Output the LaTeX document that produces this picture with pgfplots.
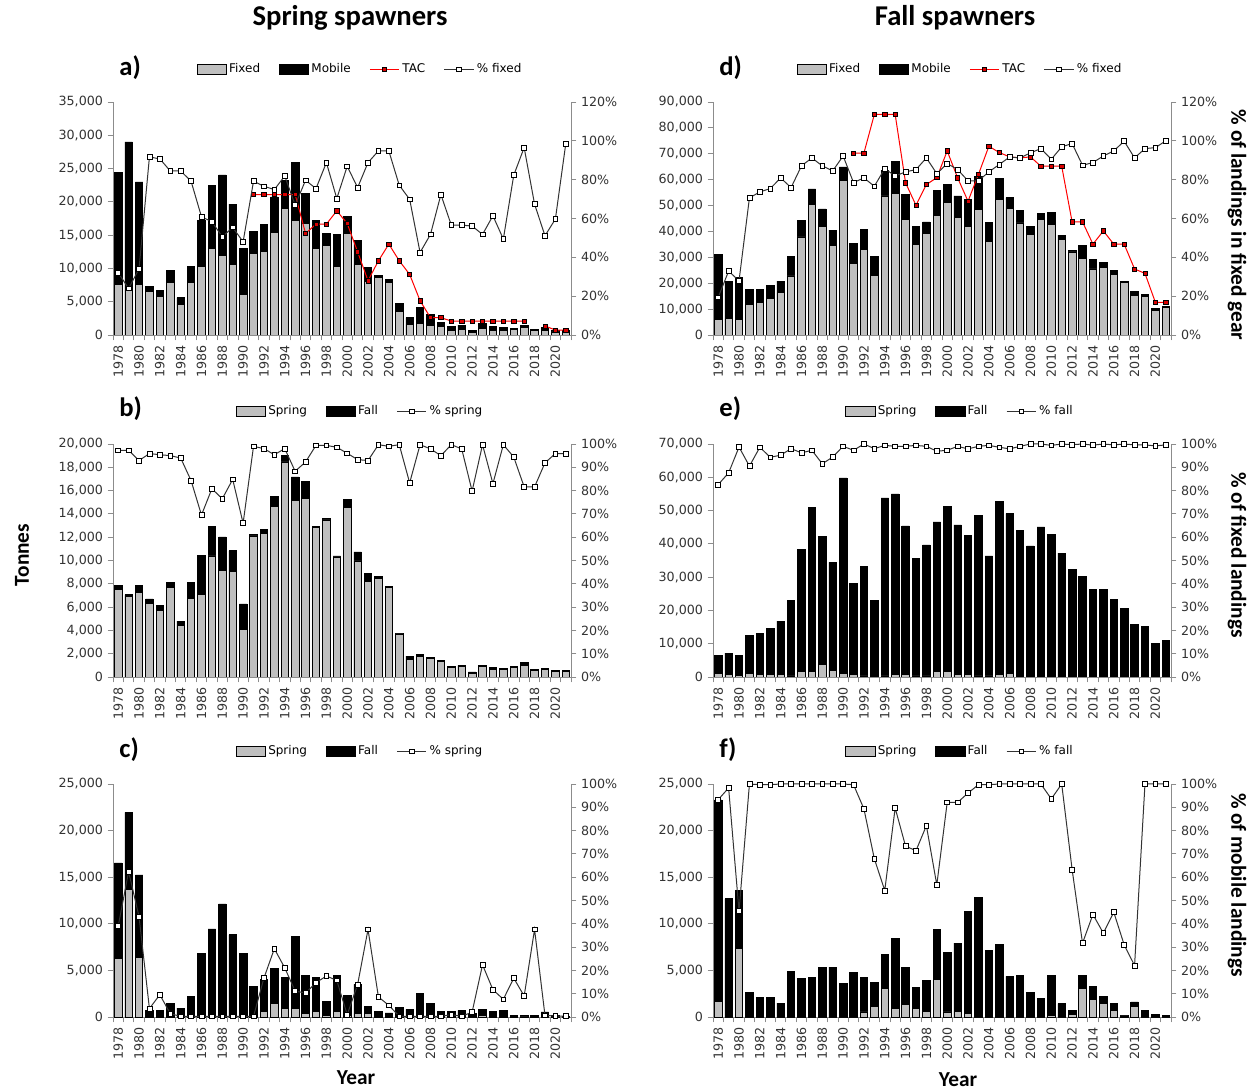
\documentclass[border=0pt]{standalone}
\usepackage{fontspec}
\setmainfont{DejaVu Sans}
\newfontfamily\calibri{Carlito}
\usepackage{pgfplots}
\usepackage{pgfplotstable}
\pgfplotsset{compat=1.18}

\newcommand\tickfont{\fontsize{9.5}{11}\selectfont}
\newcommand\legfont{\fontsize{9}{10}\selectfont}

% spring spawners: total landings (tot), fixed gear (part), TAC, % fixed
\pgfplotstableread{
year tot part tac pct
1978 24400 7650 nan 32
1979 29000 6750 nan 24
1980 23000 7650 nan 34
1981 7250 6500 nan 91.7
1982 6650 5850 nan 90.7
1983 9650 7900 nan 84.5
1984 5600 4600 nan 84.5
1985 10250 7900 nan 79.2
1986 17150 10250 nan 60.9
1987 22500 13000 nan 58.3
1988 24050 11900 nan 50.6
1989 19650 10650 nan 55.4
1990 13050 6150 nan 48
1991 15550 12250 21100 79.2
1992 16600 12600 21100 76.6
1993 20750 15400 21100 74.9
1994 23250 19000 21100 81.9
1995 25900 17250 21100 66.9
1996 21250 16750 15250 79.7
1997 17150 13000 16650 75.4
1998 15250 13500 16650 88.8
1999 15050 10350 18650 70.3
2000 17750 15250 16750 86.9
2001 14150 10650 12500 75.9
2002 10100 8000 8150 88.8
2003 9000 8650 11150 94.8
2004 8350 7900 13650 94.8
2005 4750 3500 11150 77.1
2006 2600 1600 9100 69.9
2007 4200 1750 5150 42.5
2008 3150 1450 2600 51.8
2009 1900 1250 2600 72.3
2010 1350 750 2100 56.6
2011 1500 900 2100 56.6
2012 650 400 2100 56.1
2013 1750 950 2100 51.8
2014 1350 750 2100 61.4
2015 1200 650 2100 49.4
2016 1000 900 2100 82.3
2017 1400 1100 2100 96.5
2018 850 700 nan 67.4
2019 1150 650 1350 51.1
2020 650 450 750 59.7
2021 650 500 750 98.6
}\tabA

% fall spawners: total, fixed, TAC, % fixed
\pgfplotstableread{
year tot part tac pct
1978 31200 6000 nan 19.4
1979 20800 6400 nan 32.9
1980 22100 6000 nan 27.9
1981 17600 11800 nan 70.6
1982 17600 12700 nan 73.7
1983 19000 14000 nan 75.4
1984 20800 16500 nan 80.9
1985 30500 22800 nan 75.9
1986 44100 37900 nan 87.1
1987 56400 50500 nan 91.2
1988 48700 42000 nan 87.1
1989 40500 34500 nan 84.5
1990 64900 59800 nan 92.2
1991 35400 27800 70300 78.5
1992 40900 33000 70300 80.9
1993 30500 22900 85200 76.6
1994 63600 53700 85200 85.7
1995 67200 54600 85200 81.9
1996 54300 44700 58800 84.0
1997 41800 35100 50100 85.2
1998 43700 39200 58100 91.2
1999 55900 46300 60800 83.1
2000 58200 51200 71100 88.3
2001 53700 45300 60700 85.2
2002 52300 42000 51700 79.4
2003 61300 48500 62000 79.4
2004 43500 36000 72900 84.0
2005 60400 52500 70500 87.8
2006 53100 48900 68800 91.7
2007 48200 43300 68400 91.2
2008 41800 38800 68800 93.8
2009 46900 44700 65200 96.0
2010 47200 42800 65200 90.5
2011 38600 37000 65200 96.9
2012 32800 32100 43700 98.6
2013 34500 29600 43700 87.4
2014 29300 25500 35100 88.8
2015 28000 26000 40200 92.2
2016 24800 23400 35100 94.8
2017 20800 20300 35100 99.8
2018 16700 15200 25500 91.2
2019 15800 14800 23800 96.0
2020 10300 9600 12600 96.5
2021 11200 10700 12600 100
}\tabD

% spring spawners, fixed gear: total, spring part, % spring
\pgfplotstableread{
year tot part pct
1978 7830 7550 97.3
1979 7070 6920 97.3
1980 7830 7260 92.9
1981 6700 6350 95.9
1982 6130 5700 95.4
1983 8120 7690 95.0
1984 4790 4420 94.0
1985 8120 6750 84.3
1986 10460 7120 69.5
1987 12960 10400 80.8
1988 12020 9170 76.5
1989 10830 9060 84.8
1990 6270 4070 66.0
1991 12220 12110 99.0
1992 12680 12310 98.0
1993 15470 14670 95.4
1994 19030 18460 98.0
1995 17180 15160 88.3
1996 16810 15330 92.3
1997 12960 12820 99.4
1998 13590 13480 99.4
1999 10400 10310 98.6
2000 15270 14530 96.0
2001 10740 9970 93.3
2002 8920 8180 92.9
2003 8630 8490 99.7
2004 7780 7690 99.0
2005 3760 3700 99.7
2006 1790 1480 83.3
2007 1910 1790 99.7
2008 1710 1620 97.9
2009 1420 1340 95.0
2010 940 850 99.7
2011 1000 910 97.9
2012 430 280 79.8
2013 1000 940 99.7
2014 800 660 83.0
2015 710 660 99.7
2016 940 850 94.4
2017 1230 1000 81.6
2018 660 570 81.6
2019 710 630 91.9
2020 540 480 95.9
2021 540 480 95.9
}\tabB

% fall spawners, fixed gear: total, spring part, % fall
\pgfplotstableread{
year tot part pct
1978 6480 1200 82.6
1979 7180 800 87.6
1980 6480 400 98.7
1981 12460 1200 90.5
1982 13160 700 98.6
1983 14660 800 94.3
1984 16750 800 95.2
1985 23130 300 98.0
1986 38400 1800 96.2
1987 51050 1800 97.3
1988 42200 3800 91.5
1989 34400 2000 94.4
1990 59800 1000 99.0
1991 28100 800 97.3
1992 33100 300 100
1993 23100 200 98.0
1994 53800 300 99.4
1995 55000 800 99.0
1996 45400 700 99.0
1997 35600 300 99.4
1998 39700 300 99.0
1999 46600 1700 96.9
2000 51300 1700 97.3
2001 45700 700 99.0
2002 42600 700 97.9
2003 48600 300 99.0
2004 36400 300 99.4
2005 52800 700 98.6
2006 49100 1200 97.9
2007 44100 200 99.0
2008 39400 200 100
2009 45100 200 100
2010 42900 200 99.4
2011 37200 200 100
2012 32200 200 99.7
2013 30200 200 100
2014 26200 200 99.5
2015 26200 200 100
2016 23400 200 99.6
2017 20600 200 100
2018 15700 200 99.6
2019 15300 200 99.6
2020 10000 200 99.2
2021 11000 200 99.6
}\tabE

% spring spawners, mobile gear: total, spring part, % spring
\pgfplotstableread{
year tot part pct
1978 16540 6320 39
1979 21960 13680 62.4
1980 15250 6430 43.1
1981 710 30 3.6
1982 710 70 9.6
1983 1430 20 1.4
1984 960 0 0.3
1985 2210 0 0.3
1986 6790 0 0.3
1987 9460 0 0.3
1988 12140 0 0.3
1989 8820 0 0.3
1990 6790 0 0.3
1991 3320 0 0.3
1992 4000 610 16.7
1993 5250 1500 29.3
1994 4210 890 21.1
1995 8680 890 11.1
1996 4460 360 10.3
1997 4210 610 14.7
1998 1710 180 17.6
1999 4460 610 15.7
2000 2320 180 1.0
2001 3500 360 13.9
2002 1180 360 37.6
2003 610 50 8.6
2004 430 20 5.0
2005 1070 0 0.3
2006 820 0 0.3
2007 2500 0 0.3
2008 1430 0 0.3
2009 610 0 0.3
2010 610 0 1.0
2011 710 0 0.3
2012 360 0 2.1
2013 820 180 22.4
2014 610 70 11.7
2015 710 50 7.6
2016 140 20 16.7
2017 140 10 9.0
2018 140 50 37.6
2019 540 0 0.7
2020 140 0 0.4
2021 100 0 0.4
}\tabC

% fall spawners, mobile gear: total, spring part, % fall
\pgfplotstableread{
year tot part pct
1978 23300 1680 93.3
1979 12680 0 98.3
1980 13570 7320 45.4
1981 2610 0 100
1982 2070 0 99.7
1983 2070 0 99.7
1984 1500 0 100
1985 4890 0 100
1986 4110 0 100
1987 4210 0 100
1988 5360 0 100
1989 5360 0 100
1990 3640 0 100
1991 4750 0 99.7
1992 4210 540 89.3
1993 3750 1140 67.9
1994 6680 3040 54.3
1995 8460 890 89.7
1996 5360 1360 73.3
1997 3140 890 71.4
1998 3930 640 82.1
1999 9390 4000 56.7
2000 6890 540 92.1
2001 7930 640 92.1
2002 11360 360 96.1
2003 12860 0 99.7
2004 7140 0 99.7
2005 7790 0 100
2006 4360 0 100
2007 4460 0 100
2008 2680 0 100
2009 1960 0 100
2010 4460 180 93.6
2011 1430 0 100
2012 710 250 63.3
2013 4460 3040 31.7
2014 3320 1890 44.0
2015 2210 1430 36.0
2016 1430 710 45.0
2017 180 120 31.0
2018 1610 1180 22.1
2019 710 0 100
2020 290 0 100
2021 180 0 100
}\tabF

\pgfplotsset{
  base/.style={
    scale only axis, width=343.5pt, height=174.75pt, anchor=south west,
    xmin=1977.5, xmax=2021.5, ymin=0,
    axis line style={draw=black!45, line width=0.6pt},
    tick style={draw=black!45, line width=0.6pt},
    tick align=outside, major tick length=4pt, minor tick length=4pt,
    ticklabel style={font=\tickfont, text=black!80},
    /pgf/number format/assume math mode=true,
    scaled y ticks=false,
    legend style={draw=none, fill=none, font=\legfont, legend columns=-1,
      at={(0.54,1.14)}, anchor=center,
      /tikz/every even column/.append style={column sep=12pt}},
  },
  leftax/.style={base, ybar, bar width=0.72,
    axis x line*=bottom, axis y line*=left,
    xtick={1978,1980,...,2020}, minor xtick={1977.5,1978.5,...,2021.5},
    every major x tick/.append style={draw=none},
    xticklabel style={rotate=90, anchor=east, /pgf/number format/1000 sep={}},
    yticklabel style={/pgf/number format/fixed},
  },
  rightax/.style={base, axis y line*=right, axis x line=none, xtick=\empty, clip=false,
    yticklabel={\pgfmathprintnumber{\tick}\%}},
  barleg/.style={legend image code/.code={\draw[##1] (0pt,-3.5pt) rectangle (22pt,3.5pt);}},
  lineleg/.style={legend image code/.code={\draw[mark repeat=2,mark phase=2,##1] plot coordinates {(0pt,0pt) (11pt,0pt) (22pt,0pt)};}},
  blackbar/.style={fill=black, draw=black, line width=0.5pt, bar shift=0pt, forget plot},
  graybar/.style={fill=black!25, draw=black, line width=0.5pt, bar shift=0pt, forget plot},
  pctline/.style={sharp plot, black!80, line width=0.75pt, mark=square*, mark size=1.8pt,
    mark options={fill=white, draw=black, solid, line width=0.5pt}},
  tacline/.style={sharp plot, red, line width=0.75pt, mark=square*, mark size=1.6pt,
    mark options={fill=red!85!black, draw=black, line width=0.5pt}, unbounded coords=jump},
}

\begin{document}
\begin{tikzpicture}
\useasboundingbox (0,0) rectangle (940.5pt,817.5pt);

% ---- a) ----
\begin{axis}[leftax, at={(84.75pt,566.25pt)}, ymax=35000, ytick={0,5000,...,35000}]
\addlegendimage{barleg, fill=black!25, draw=black}\addlegendentry{Fixed}
\addlegendimage{barleg, fill=black, draw=black}\addlegendentry{Mobile}
\addlegendimage{lineleg, tacline}\addlegendentry{TAC}
\addlegendimage{lineleg, pctline}\addlegendentry{\% fixed}
\addplot[blackbar] table[x=year, y=tot] {\tabA};
\addplot[graybar] table[x=year, y=part] {\tabA};
\addplot[tacline, forget plot] table[x=year, y=tac] {\tabA};
\end{axis}
\begin{axis}[rightax, at={(84.75pt,566.25pt)}, ymax=120, ytick={0,20,...,120}]
\addplot[pctline] table[x=year, y=pct] {\tabA};
\end{axis}

% ---- d) ----
\begin{axis}[leftax, at={(534.75pt,566.25pt)}, ymax=90000, ytick={0,10000,...,90000}]
\addlegendimage{barleg, fill=black!25, draw=black}\addlegendentry{Fixed}
\addlegendimage{barleg, fill=black, draw=black}\addlegendentry{Mobile}
\addlegendimage{lineleg, tacline}\addlegendentry{TAC}
\addlegendimage{lineleg, pctline}\addlegendentry{\% fixed}
\addplot[blackbar] table[x=year, y=tot] {\tabD};
\addplot[graybar] table[x=year, y=part] {\tabD};
\addplot[tacline, forget plot] table[x=year, y=tac] {\tabD};
\end{axis}
\begin{axis}[rightax, at={(534.75pt,566.25pt)}, ymax=120, ytick={0,20,...,120}]
\addplot[pctline] table[x=year, y=pct] {\tabD};
\end{axis}

% ---- b) ----
\begin{axis}[leftax, at={(84.75pt,309.75pt)}, ymax=20000, ytick={0,2000,...,20000}]
\addlegendimage{barleg, fill=black!25, draw=black}\addlegendentry{Spring}
\addlegendimage{barleg, fill=black, draw=black}\addlegendentry{Fall}
\addlegendimage{lineleg, pctline}\addlegendentry{\% spring}
\addplot[blackbar] table[x=year, y=tot] {\tabB};
\addplot[graybar] table[x=year, y=part] {\tabB};
\end{axis}
\begin{axis}[rightax, at={(84.75pt,309.75pt)}, ymax=100, ytick={0,10,...,100}]
\addplot[pctline] table[x=year, y=pct] {\tabB};
\end{axis}

% ---- e) ----
\begin{axis}[leftax, at={(534.75pt,309.75pt)}, ymax=70000, ytick={0,10000,...,70000}]
\addlegendimage{barleg, fill=black!25, draw=black}\addlegendentry{Spring}
\addlegendimage{barleg, fill=black, draw=black}\addlegendentry{Fall}
\addlegendimage{lineleg, pctline}\addlegendentry{\% fall}
\addplot[blackbar] table[x=year, y=tot] {\tabE};
\addplot[graybar] table[x=year, y=part] {\tabE};
\end{axis}
\begin{axis}[rightax, at={(534.75pt,309.75pt)}, ymax=100, ytick={0,10,...,100}]
\addplot[pctline] table[x=year, y=pct] {\tabE};
\end{axis}

% ---- c) ----
\begin{axis}[leftax, at={(84.75pt,54.75pt)}, ymax=25000, ytick={0,5000,...,25000}]
\addlegendimage{barleg, fill=black!25, draw=black}\addlegendentry{Spring}
\addlegendimage{barleg, fill=black, draw=black}\addlegendentry{Fall}
\addlegendimage{lineleg, pctline}\addlegendentry{\% spring}
\addplot[blackbar] table[x=year, y=tot] {\tabC};
\addplot[graybar] table[x=year, y=part] {\tabC};
\end{axis}
\begin{axis}[rightax, at={(84.75pt,54.75pt)}, ymax=100, ytick={0,10,...,100}]
\addplot[pctline] table[x=year, y=pct] {\tabC};
\end{axis}

% ---- f) ----
\begin{axis}[leftax, at={(534.75pt,54.75pt)}, ymax=25000, ytick={0,5000,...,25000}]
\addlegendimage{barleg, fill=black!25, draw=black}\addlegendentry{Spring}
\addlegendimage{barleg, fill=black, draw=black}\addlegendentry{Fall}
\addlegendimage{lineleg, pctline}\addlegendentry{\% fall}
\addplot[blackbar] table[x=year, y=tot] {\tabF};
\addplot[graybar] table[x=year, y=part] {\tabF};
\end{axis}
\begin{axis}[rightax, at={(534.75pt,54.75pt)}, ymax=100, ytick={0,10,...,100}]
\addplot[pctline] table[x=year, y=pct] {\tabF};
\end{axis}

% titles and labels
\begin{scope}[every node/.style={font=\calibri\bfseries\fontsize{21.5}{25}\selectfont}]
\node at (262.5pt,804pt) {Spring spawners};
\node at (716.25pt,804pt) {Fall spawners};
\end{scope}
\begin{scope}[every node/.style={font=\calibri\bfseries\fontsize{20}{24}\selectfont}]
\node[anchor=west] at (86pt,766.5pt) {a)};
\node[anchor=west] at (536pt,766.5pt) {d)};
\node[anchor=west] at (86pt,510.75pt) {b)};
\node[anchor=west] at (536pt,510.75pt) {e)};
\node[anchor=west] at (86pt,255pt) {c)};
\node[anchor=west] at (536pt,255pt) {f)};
\end{scope}
\begin{scope}[every node/.style={font=\calibri\bfseries\fontsize{16}{19}\selectfont}]
\node[rotate=90] at (16.5pt,401.25pt) {Tonnes};
\node at (267pt,9pt) {Year};
\node at (718.5pt,8pt) {Year};
\node[rotate=-90] at (927.75pt,648.75pt) {\% of landings in fixed gear};
\node[rotate=-90] at (927.75pt,401.25pt) {\% of fixed landings};
\node[rotate=-90] at (927.75pt,153.75pt) {\% of mobile landings};
\end{scope}
\end{tikzpicture}
\end{document}
